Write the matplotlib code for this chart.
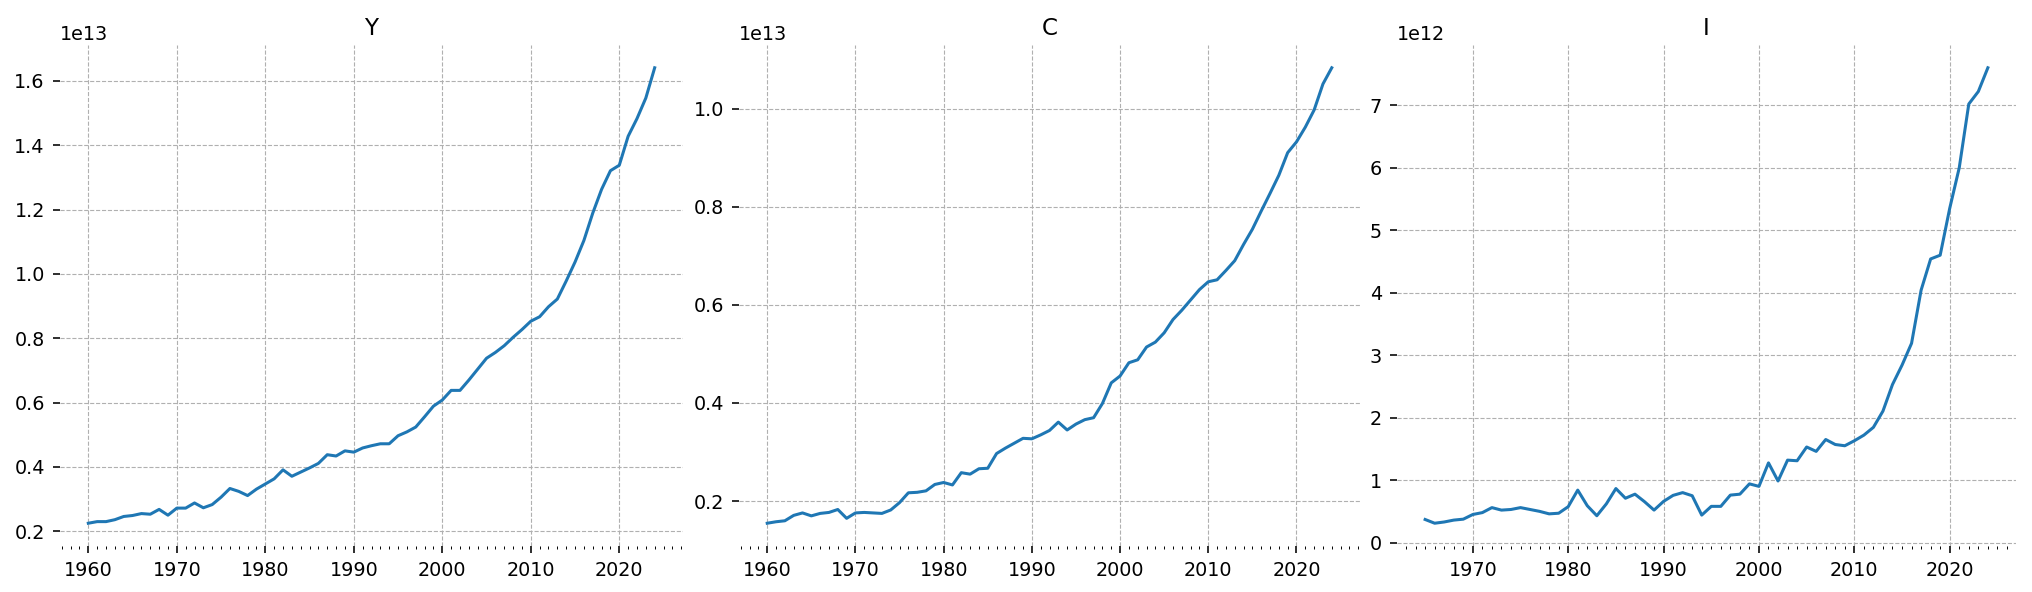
import matplotlib
matplotlib.use("Agg")
import matplotlib.pyplot as plt
import numpy as np
from matplotlib.ticker import MultipleLocator

years_yc = np.arange(1960, 2025)
years_i = np.arange(1965, 2025)

# values in units of 1e13
y_vals = [
    0.225, 0.230, 0.230, 0.236, 0.246, 0.249, 0.255, 0.253, 0.268, 0.250,
    0.272, 0.272, 0.288, 0.273, 0.283, 0.306, 0.333, 0.324, 0.311, 0.331,
    0.347, 0.363, 0.391, 0.371, 0.384, 0.397, 0.411, 0.438, 0.434, 0.450,
    0.446, 0.459, 0.466, 0.472, 0.472, 0.497, 0.509, 0.524, 0.556, 0.589,
    0.608, 0.638, 0.638, 0.670, 0.704, 0.738, 0.756, 0.777, 0.803, 0.827,
    0.853, 0.867, 0.898, 0.922, 0.978, 1.037, 1.104, 1.189, 1.263, 1.321,
    1.338, 1.428, 1.483, 1.547, 1.641,
]

# values in units of 1e13
c_vals = [
    0.155, 0.158, 0.160, 0.171, 0.176, 0.170, 0.175, 0.177, 0.183, 0.165,
    0.176, 0.177, 0.176, 0.175, 0.182, 0.197, 0.217, 0.218, 0.221, 0.234,
    0.238, 0.233, 0.258, 0.255, 0.266, 0.267, 0.297, 0.308, 0.318, 0.328,
    0.327, 0.335, 0.344, 0.361, 0.345, 0.357, 0.366, 0.370, 0.399, 0.441,
    0.455, 0.482, 0.488, 0.514, 0.524, 0.543, 0.570, 0.589, 0.610, 0.631,
    0.647, 0.651, 0.670, 0.690, 0.723, 0.754, 0.791, 0.827, 0.864, 0.910,
    0.932, 0.962, 0.997, 1.050, 1.083,
]

# values in units of 1e12
i_vals = [
    0.37, 0.31, 0.33, 0.36, 0.375, 0.45, 0.48, 0.56, 0.52, 0.53,
    0.56, 0.53, 0.50, 0.46, 0.47, 0.575, 0.84, 0.59, 0.43, 0.62,
    0.865, 0.71, 0.775, 0.655, 0.52, 0.66, 0.756, 0.80, 0.75, 0.44,
    0.58, 0.58, 0.76, 0.775, 0.94, 0.90, 1.276, 0.986, 1.32, 1.31,
    1.53, 1.46, 1.65, 1.57, 1.55, 1.63, 1.72, 1.845, 2.105, 2.53,
    2.84, 3.19, 4.04, 4.54, 4.60, 5.35, 6.00, 7.02, 7.22, 7.60,
]

series = [
    ("Y", years_yc, np.array(y_vals) * 1e13),
    ("C", years_yc, np.array(c_vals) * 1e13),
    ("I", years_i, np.array(i_vals) * 1e12),
]

W, H = 2032, 592
# axes boxes in pixels: left, right, top, bottom
boxes = [(60, 683), (739, 1360), (1397, 2016)]
top, bottom = 45, 546

plt.rcParams["font.size"] = 12

fig, axes = plt.subplots(1, 3, figsize=(W / 115, H / 115), dpi=115)
for ax, (name, x, v), (l, r) in zip(axes, series, boxes):
    ax.set_position([l / W, (H - bottom) / H, (r - l) / W, (bottom - top) / H])
    ax.plot(x, v, color="#1f77b4", linewidth=1.9)
    ax.set_title(name)
    ax.xaxis.set_minor_locator(MultipleLocator(1))
    ax.tick_params(which="major", length=4.5, width=1.0, pad=5)
    ax.tick_params(which="minor", length=2.0, width=0.6)
    ax.grid(True, which="major", linestyle="--", color="#b0b0b0", linewidth=0.7)
    for side in ["top", "right", "bottom", "left"]:
        ax.spines[side].set_visible(False)

plt.savefig("out.png", dpi=115)
plt.close(fig)
